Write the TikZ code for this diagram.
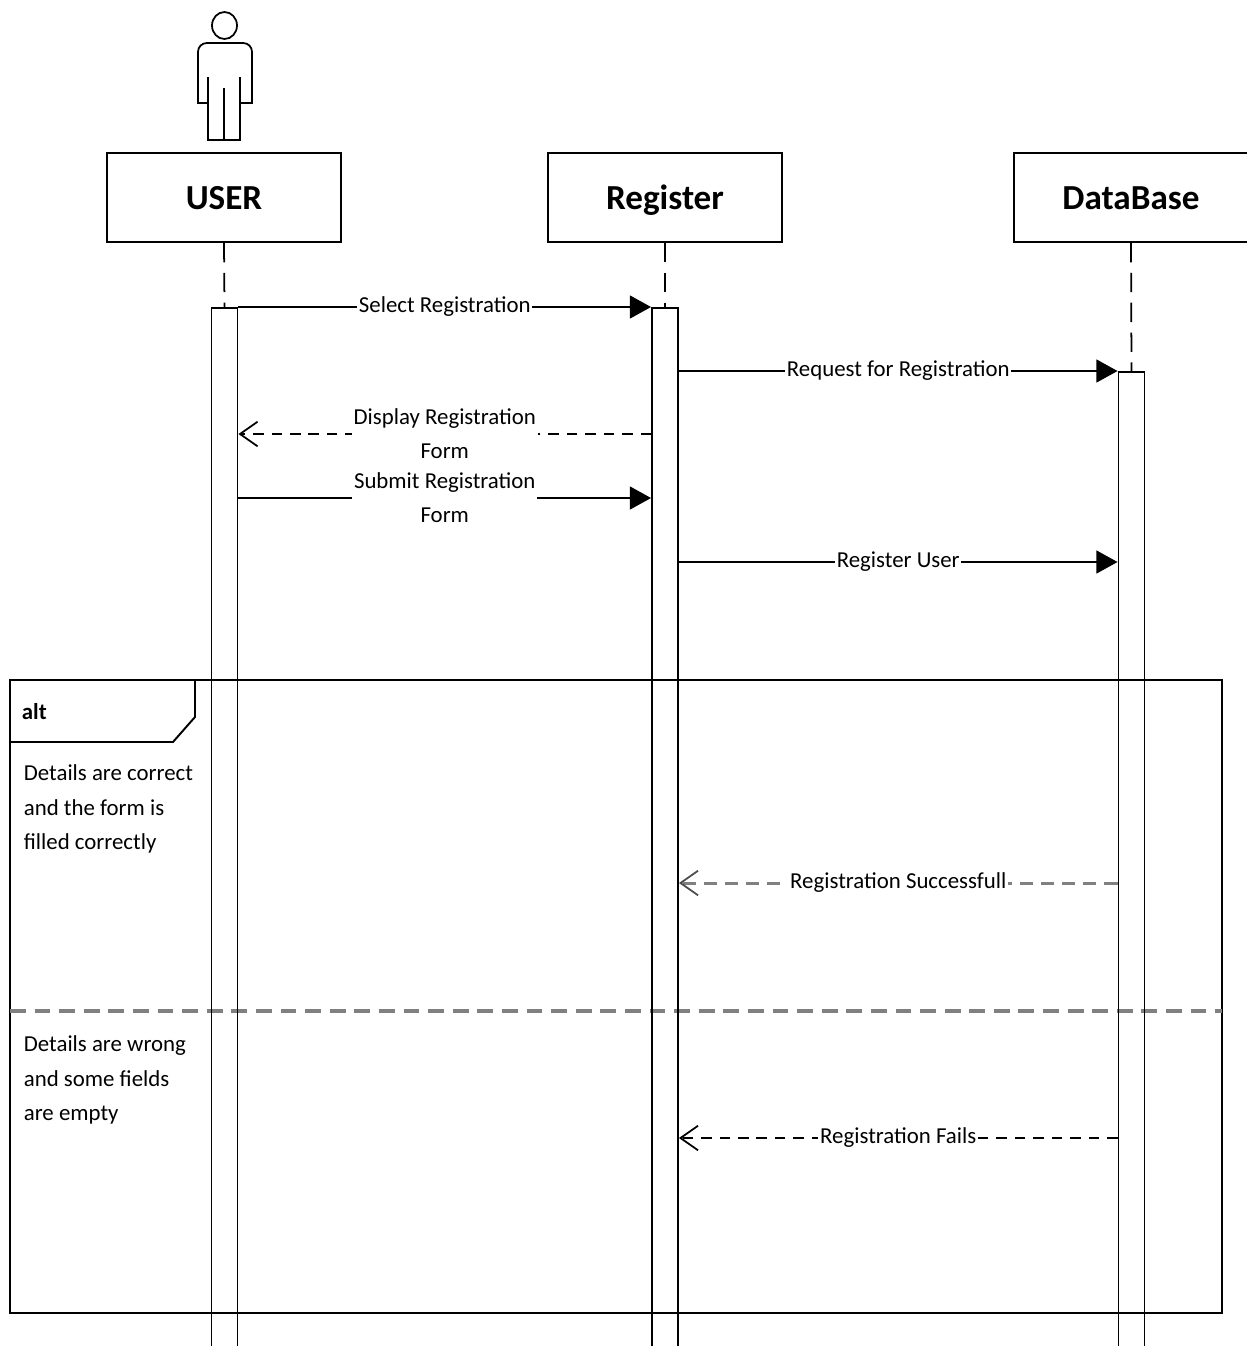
\documentclass[tikz,border=0pt]{standalone}
\usepackage{fontspec}
\setmainfont{Carlito}
\usetikzlibrary{arrows.meta}
\begin{document}
\begin{tikzpicture}[x=0.02cm,y=-0.02cm,line width=1pt,
  head/.style={draw,line width=1.1pt,minimum width=4.68cm,minimum height=1.78cm,inner sep=0pt,text height=14pt,text depth=0pt,font=\bfseries\fontsize{20}{24}\selectfont},
  actbar/.style={draw,line width=1.1pt,minimum width=0.52cm,minimum height=21.2cm,anchor=north,inner sep=0pt},
  life/.style={line width=1pt,dash pattern=on 11pt off 6pt},
  msg/.style={line width=1pt,-{Triangle[length=12pt,width=13pt]}},
  reply/.style={line width=1pt,dash pattern=on 6pt off 4.5pt,-{Straight Barb[length=10pt,width=14pt,line width=1pt]}},
  greyreply/.style={line width=1.7pt,draw=black!50,dash pattern=on 7.5pt off 4.5pt,-{Straight Barb[length=10pt,width=14pt,line width=1pt,color=black!70]}},
  lbl/.style={fill=white,inner sep=1pt,align=center,font=\fontsize{13}{19.5}\selectfont},
  guard/.style={anchor=north west,inner sep=0pt,align=left,font=\fontsize{13}{19.5}\selectfont}]
\useasboundingbox (0,0) rectangle (1247,1346);
\clip (0,0) rectangle (1247,1346);
% actor
\draw[line width=1pt] (224.5,25.5) ellipse [x radius=12.5,y radius=13.5];
\draw[line width=1pt] (208,140) -- (208,103) -- (198,103) [rounded corners=5pt] -- (198,43) -- (252,43) [sharp corners] -- (252,103) -- (240,103) -- (240,140) -- cycle;
\draw[line width=1pt] (208,77) -- (208,103) (240,77) -- (240,103) (224,88) -- (224,140);
% heads
\node[head] (user) at (224,197.5) {USER};
\node[head] (reg) at (665,197.5) {Register};
\node[head] (db) at (1131,197.5) {DataBase};
% alt frame
\draw[line width=1.1pt] (10,680) rectangle (1222,1313);
\draw[line width=1.1pt] (10,742) -- (173,742) -- (195,717) -- (195,680);
\node[anchor=west,inner sep=0pt,font=\bfseries\fontsize{13}{16}\selectfont] (alt) at (21,712) {alt};
\draw[line width=1.8pt,draw=black!50,dash pattern=on 9pt off 5pt] (10,1011) -- (1222,1011);
\node[guard] (g1) at (23,764) {Details are correct\\and the form is\\filled correctly};
\node[guard] (g2) at (23,1035) {Details are wrong\\and some fields\\are empty};
% activation bars
\node[actbar] (ubar) at (224.5,307) {};
\node[actbar] (rbar) at (665,307) {};
\node[actbar] (dbar) at (1131.5,371) {};
% lifelines
\draw[life] (user.south) -- (ubar.north);
\draw[life] (reg.south) -- (rbar.north);
\draw[life] (db.south) -- (dbar.north);
% message levels
\coordinate (y1) at (0,307);
\coordinate (y2) at (0,371);
\coordinate (y3) at (0,434);
\coordinate (y4) at (0,498);
\coordinate (y5) at (0,562);
\coordinate (y6) at (0,883);
\coordinate (y7) at (0,1138);
\draw[msg] (ubar.east |- y1) -- node[lbl] {Select Registration} (rbar.west |- y1);
\draw[msg] (rbar.east |- y2) -- node[lbl] {Request for Registration} (dbar.west |- y2);
\draw[reply] (rbar.west |- y3) -- node[lbl] {Display Registration\\Form} (ubar.east |- y3);
\draw[msg] (ubar.east |- y4) -- node[lbl] {Submit Registration\\Form} (rbar.west |- y4);
\draw[msg] (rbar.east |- y5) -- node[lbl] {Register User} (dbar.west |- y5);
\draw[greyreply] (dbar.west |- y6) -- node[lbl] {Registration Successfull} (rbar.east |- y6);
\draw[reply] (dbar.west |- y7) -- node[lbl] {Registration Fails} (rbar.east |- y7);
\end{tikzpicture}
\end{document}
